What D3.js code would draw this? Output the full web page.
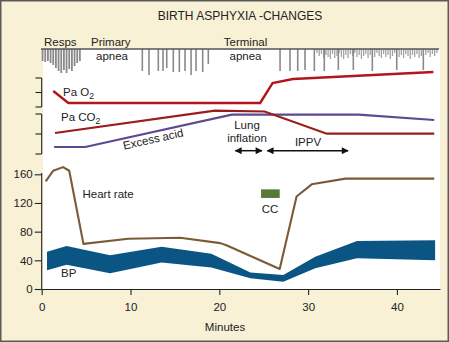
<!DOCTYPE html>
<html>
<head>
<meta charset="utf-8">
<script src="https://cdn.jsdelivr.net/npm/d3@7"></script>
<style>
  html, body { margin: 0; padding: 0; background: #fff; }
  svg { display: block; font-family: "Liberation Sans", Arial, Helvetica, sans-serif; }
</style>
</head>
<body>
<svg id="chart" width="449" height="342"></svg>
<script>
// ---- Data -------------------------------------------------------------
const xTicks = [0, 10, 20, 30, 40];
const hrTicks = [0, 40, 80, 120, 160];

// Respiratory effort: [minute, depth]
const respGasps = [[0.1,12],[0.4,13],[0.7,12],[1.0,14],[1.3,16],[1.6,19],[1.9,22],[2.2,24],[2.5,21],[2.8,24],[3.1,20],[3.4,22],[3.7,17],[4.0,14],[4.3,12]];
const respLast = [[11.33,22],[12.08,26],[13.13,22],[13.66,22],[14.08,19],[14.82,23],[15.5,23],[16.14,22],[16.82,26],[17.38,22],[18.13,23],[18.76,15]];
const respRecovery = [[26.84,22],[27.96,22],[28.83,22],[29.65,21],[30.7,22],[31.82,22],[33.4,21],[35.09,21],[37.23,22],[39.98,21],[42.97,21]];
const respShallow = [[31.0,4],[31.25,7],[31.5,5],[31.75,9],[32.0,6],[32.25,8],[32.5,10],[32.75,5],[33.0,9],[33.25,7],[33.5,4],[33.75,8],[34.0,10],[34.25,6],[34.5,9],[34.75,5],[35.0,7],[35.25,4],[35.5,8],[35.75,6],[36.0,10],[36.25,7],[36.5,5],[36.75,9],[37.0,6],[37.5,8],[37.75,4],[38.0,7],[38.25,9],[38.5,5],[38.75,8],[39.0,6],[39.25,10],[39.5,7],[39.75,4],[40.25,8],[40.5,6],[40.75,9],[41.0,5],[41.25,7],[41.5,10],[41.75,6],[42.0,8],[42.25,5],[42.5,9],[42.75,7],[43.25,6],[43.5,4],[43.75,8],[44.0,5],[44.25,7],[44.5,4]];

// Blood gases (relative units)
const paO2 = [[1.3,67],[3.0,55],[24.6,55],[26.0,75],[28.3,79],[44.1,86]];
const paCO2 = [[1.5,25],[19.5,47.3],[25.1,46.5],[32.1,24.3],[44.2,24.3]];
const excessAcid = [[1.4,11],[4.9,11],[21.4,43.3],[35.7,43.3],[44.2,38]];
const paO2Bracket = [51, 65.5, 80];
const paCO2Bracket = [4, 24, 44];

// Interventions: [start, end] in minutes
const lungInflation = [21.8, 24.8];
const ippv = [25.4, 34.5];
const cc = [24.7, 26.8, 127, 139]; // minutes from, to; level low, high

// Heart rate (beats/min)
const heartRate = [[0.45,150],[1.3,165],[2.4,170],[3.1,165],[4.7,63],[9.75,70],[15.6,71.5],[20.1,64],[20.8,61],[26.8,28],[28.7,129],[30.4,146],[34.2,154],[44.2,154]];

// Blood pressure band: minute, high, low
const bpMinutes = [0.6, 2.8, 7.7, 13.5, 19.1, 23.5, 27.2, 30.8, 35.5, 44.3];
const bpHigh = [52, 60, 47, 59, 49, 23, 19.5, 45, 67, 68];
const bpLow = [26, 34, 22, 37, 30, 15, 10, 29, 43, 40];

// ---- Layout -----------------------------------------------------------
const svg = d3.select("#chart");
const W = 449, H = 342;
const x = d3.scaleLinear().domain([0, 44.85]).range([41.7, 440]);
const yHR = d3.scaleLinear().domain([0, 160]).range([289, 174.3]);
const yGas = d3.scaleLinear().domain([0, 100]).range([158, 58]);
const yResp = d3.scaleLinear().domain([0, 30]).range([49, 79]);

const ink = "#222";

// background and plot panel
svg.append("rect").attr("x", 0.75).attr("y", 0.75).attr("width", W - 1.5).attr("height", H - 1.5)
  .attr("fill", "#f9f1d6").attr("stroke", "#5a5a5a").attr("stroke-width", 1.5);
svg.append("rect").attr("x", 43).attr("y", 49).attr("width", 397).attr("height", 240).attr("fill", "#fff");

// title
svg.append("text").attr("x", 240).attr("y", 19.5).attr("text-anchor", "middle")
  .attr("font-size", 12).attr("fill", ink).text("BIRTH ASPHYXIA -CHANGES");

// ---- Respirations -----------------------------------------------------
const respG = svg.append("g");
function respBars(data, color, width) {
  respG.selectAll(null).data(data).enter().append("line")
    .attr("x1", d => x(d[0])).attr("x2", d => x(d[0]))
    .attr("y1", yResp(0)).attr("y2", d => yResp(d[1]))
    .attr("stroke", color).attr("stroke-width", width);
}
respBars(respGasps, "#8a8a8a", 1.8);
respBars(respLast, "#8a8a8a", 1.6);
respBars(respShallow, "#a3a3a3", 1.3);
respBars(respRecovery, "#8a8a8a", 1.6);
svg.append("line").attr("x1", 41).attr("x2", 439).attr("y1", 49).attr("y2", 49)
  .attr("stroke", "#555").attr("stroke-width", 1.6);

const lbl = (tx, ty, s, anchor, size) => svg.append("text").attr("x", tx).attr("y", ty)
  .attr("text-anchor", anchor || "start").attr("font-size", size || 11.5).attr("fill", ink).text(s);
lbl(44, 46, "Resps");
lbl(91, 46, "Primary");
lbl(112, 59.5, "apnea", "middle");
lbl(245.5, 46, "Terminal", "middle");
lbl(245.5, 59.5, "apnea", "middle");

// ---- Blood gases ------------------------------------------------------
function bracket(ticks) {
  const g = svg.append("g");
  const lo = d3.min(ticks), hi = d3.max(ticks);
  g.append("line").attr("x1", 41.7).attr("x2", 41.7).attr("y1", yGas(lo)).attr("y2", yGas(hi))
    .attr("stroke", ink).attr("stroke-width", 1.1);
  g.selectAll(null).data(ticks).enter().append("line")
    .attr("x1", 35.5).attr("x2", 41.7).attr("y1", d => yGas(d)).attr("y2", d => yGas(d))
    .attr("stroke", ink).attr("stroke-width", 1.1);
}
bracket(paO2Bracket);
bracket(paCO2Bracket);

const gasLine = d3.line().x(d => x(d[0])).y(d => yGas(d[1]));
svg.append("path").attr("d", gasLine(excessAcid)).attr("fill", "none")
  .attr("stroke", "#5f4892").attr("stroke-width", 2.2);
svg.append("path").attr("d", gasLine(paCO2)).attr("fill", "none")
  .attr("stroke", "#9a1c1c").attr("stroke-width", 2.2);
svg.append("path").attr("d", gasLine(paO2)).attr("fill", "none")
  .attr("stroke", "#b3141d").attr("stroke-width", 2.4);

function subLabel(tx, ty, main, sub) {
  const t = svg.append("text").attr("x", tx).attr("y", ty).attr("font-size", 11.5).attr("fill", ink);
  t.append("tspan").text(main);
  t.append("tspan").attr("dy", 3).attr("font-size", 8.5).text(sub);
}
subLabel(63, 95.5, "Pa O", "2");
subLabel(61, 120.5, "Pa CO", "2");

svg.append("text").attr("transform", "translate(154,143) rotate(-12.5)")
  .attr("text-anchor", "middle").attr("font-size", 11.5).attr("fill", ink).text("Excess acid");

lbl(247, 129, "Lung", "middle");
lbl(247, 141.5, "inflation", "middle");
lbl(308, 145.5, "IPPV", "middle");

// double-headed arrows for interventions
const defs = svg.append("defs");
["start", "end"].forEach(k => {
  defs.append("marker").attr("id", "arrow-" + k)
    .attr("viewBox", "0 0 10 10").attr("refX", k === "end" ? 9 : 1).attr("refY", 5)
    .attr("markerUnits", "userSpaceOnUse").attr("markerWidth", 8).attr("markerHeight", 7)
    .attr("orient", "auto")
    .append("path")
    .attr("d", k === "end" ? "M0,0 L10,5 L0,10 Z" : "M10,0 L0,5 L10,10 Z")
    .attr("fill", "#111");
});
[lungInflation, ippv].forEach(p => {
  svg.append("line").attr("x1", x(p[0])).attr("x2", x(p[1])).attr("y1", 150.7).attr("y2", 150.7)
    .attr("stroke", "#111").attr("stroke-width", 1.5)
    .attr("marker-start", "url(#arrow-start)").attr("marker-end", "url(#arrow-end)");
});

// ---- Heart rate & BP --------------------------------------------------
const bpData = bpMinutes.map((m, i) => ({ m, hi: bpHigh[i], lo: bpLow[i] }));
svg.append("path")
  .attr("d", d3.area().x(d => x(d.m)).y0(d => yHR(d.lo)).y1(d => yHR(d.hi))(bpData))
  .attr("fill", "#0b5585");

svg.append("path")
  .attr("d", d3.line().x(d => x(d[0])).y(d => yHR(d[1]))(heartRate))
  .attr("fill", "none").attr("stroke", "#7b5b36").attr("stroke-width", 2.1)
  .attr("stroke-linejoin", "round");

svg.append("rect").attr("x", x(cc[0])).attr("y", yHR(cc[3]))
  .attr("width", x(cc[1]) - x(cc[0])).attr("height", yHR(cc[2]) - yHR(cc[3]))
  .attr("fill", "#587a38");
lbl(270, 212.5, "CC", "middle");
lbl(82.5, 198, "Heart rate");
lbl(61, 277, "BP");

// axes
const xAxis = svg.append("g").attr("transform", "translate(0,289)")
  .call(d3.axisBottom(x).tickValues(xTicks).tickSize(6).tickSizeOuter(0).tickPadding(8));
const yAxis = svg.append("g").attr("transform", "translate(41.7,0)")
  .call(d3.axisLeft(yHR).tickValues(hrTicks).tickSize(7).tickSizeOuter(0).tickPadding(2));
[xAxis, yAxis].forEach(a => {
  a.select(".domain").attr("stroke", ink).attr("stroke-width", 1.1);
  a.selectAll(".tick line").attr("stroke", ink).attr("stroke-width", 1.1);
  a.selectAll(".tick text").attr("fill", ink).attr("font-size", 11.5)
    .attr("font-family", "\"Liberation Sans\", Arial, sans-serif");
});
yAxis.select(".domain").attr("d", `M0,${yHR(0)}V173`);

lbl(225, 331, "Minutes", "middle");
</script>
</body>
</html>
